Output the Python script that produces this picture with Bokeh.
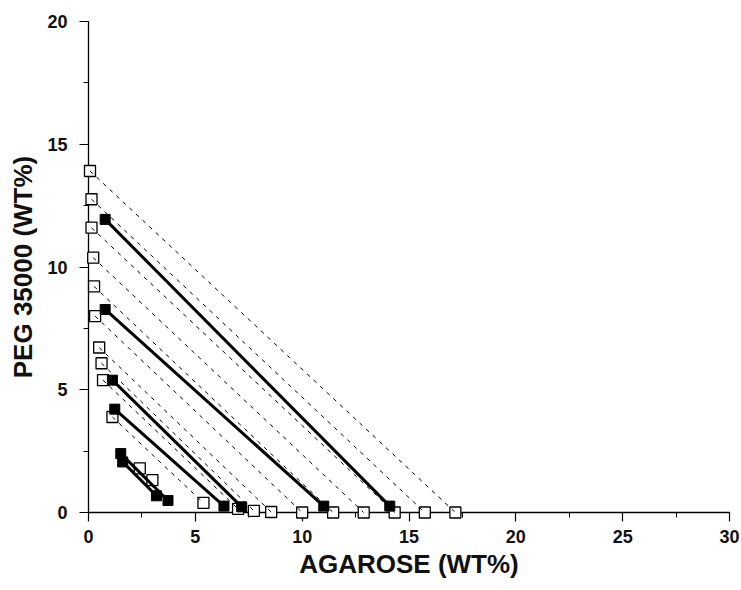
from bokeh.plotting import figure
from bokeh.models import SingleIntervalTicker, Range1d
from bokeh.embed import file_html
from bokeh.resources import INLINE

# Binodal points (open squares)
binodal_x = [0.07, 0.14, 0.14, 0.22, 0.26, 0.31, 0.50, 0.61, 0.68, 1.12, 2.40, 2.99,
             5.38, 7.00, 7.74, 8.55, 10.00, 11.45, 12.88, 14.33, 15.74, 17.17]
binodal_y = [13.91, 12.76, 11.60, 10.38, 9.21, 8.00, 6.72, 6.08, 5.39, 3.89, 1.80, 1.32,
             0.39, 0.15, 0.07, 0.02, 0.0, 0.0, 0.0, 0.0, 0.0, 0.0]

# Predicted tie lines (dashed)
model_top_x = [0.07, 0.14, 0.14, 0.22, 0.26, 0.31, 0.50, 0.61, 0.68, 1.12]
model_top_y = [13.91, 12.76, 11.60, 10.38, 9.21, 8.00, 6.72, 6.08, 5.39, 3.89]
model_bot_x = [17.17, 15.74, 14.33, 12.88, 11.45, 10.00, 8.55, 7.74, 7.00, 5.38]
model_bot_y = [0.0, 0.0, 0.0, 0.0, 0.0, 0.0, 0.02, 0.07, 0.15, 0.39]

# Experimental tie lines (solid, filled squares)
exp_top_x = [0.78, 0.78, 1.12, 1.23, 1.51, 1.60]
exp_top_y = [11.94, 8.27, 5.39, 4.21, 2.40, 2.06]
exp_bot_x = [14.10, 11.01, 7.17, 6.34, 3.72, 3.18]
exp_bot_y = [0.26, 0.26, 0.23, 0.26, 0.49, 0.68]

p = figure(width=741, height=590, output_backend="svg", toolbar_location=None,
           x_range=Range1d(0, 30), y_range=Range1d(0, 20),
           min_border_left=88, min_border_right=12, min_border_top=21, min_border_bottom=78)
p.outline_line_color = None
p.grid.visible = False
p.background_fill_color = "white"

p.xaxis.ticker = SingleIntervalTicker(interval=5, num_minor_ticks=2)
p.yaxis.ticker = SingleIntervalTicker(interval=5, num_minor_ticks=2)
for ax in (p.xaxis, p.yaxis):
    ax.axis_line_color = "black"
    ax.axis_line_width = 1.3
    ax.major_tick_line_color = "black"
    ax.minor_tick_line_color = "black"
    ax.major_tick_line_width = 1.2
    ax.minor_tick_line_width = 1.0
    ax.major_tick_out = 9
    ax.major_tick_in = 0
    ax.minor_tick_out = 5
    ax.minor_tick_in = 0
    ax.major_label_text_font = "Liberation Sans"
    ax.major_label_text_font_style = "bold"
    ax.major_label_text_font_size = "18px"
    ax.major_label_text_color = "#111111"
    ax.axis_label_text_font = "Liberation Sans"
    ax.axis_label_text_font_style = "bold"
    ax.axis_label_text_font_size = "26px"
    ax.axis_label_text_color = "#111111"

p.xaxis.axis_label = "AGAROSE (WT%)"
p.yaxis.axis_label = "PEG 35000 (WT%)"
p.xaxis.major_label_standoff = 8
p.yaxis.major_label_standoff = 12
p.xaxis.axis_label_standoff = 3
p.yaxis.axis_label_standoff = 6

r = p.scatter(binodal_x, binodal_y, marker="square", size=11, fill_color="white",
              line_color="black", line_width=1.3)
r.level = "overlay"

r = p.segment(model_top_x, model_top_y, model_bot_x, model_bot_y, line_color="black",
              line_width=1, line_dash="4 5")
r.level = "overlay"

r = p.segment(exp_top_x, exp_top_y, exp_bot_x, exp_bot_y, line_color="black", line_width=3)
r.level = "overlay"

r = p.scatter(exp_top_x + exp_bot_x, exp_top_y + exp_bot_y, marker="square", size=10,
              fill_color="black", line_color="black", line_width=1)
r.level = "overlay"

open("out.html", "w").write(file_html(p, INLINE))
